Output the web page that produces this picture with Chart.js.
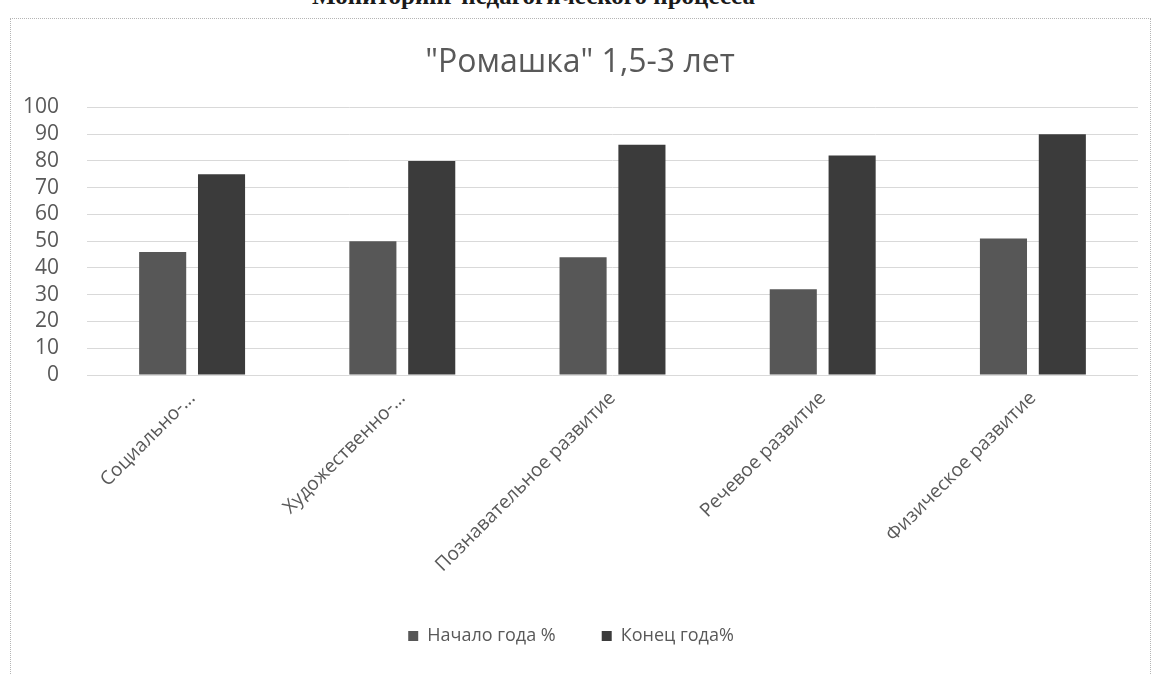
<!DOCTYPE html>
<html>
<head>
<meta charset="utf-8">
<script src="https://cdn.jsdelivr.net/npm/chart.js@4/dist/chart.umd.min.js"></script>
<style>
  html, body { margin: 0; padding: 0; background: #ffffff; }
  body { width: 1157px; height: 674px; position: relative; overflow: hidden; }
  #heading { position: absolute; left: 312px; top: -18px; font: bold 25px "Liberation Serif", serif; color: #1a1a1a; white-space: nowrap; }
  #frame { position: absolute; left: 10px; top: 18px; width: 1141px; height: 670px; border: 1px dotted #b5b5b5; box-sizing: border-box; }
  #wrap { position: absolute; left: 0; top: 0; width: 1157px; height: 674px; }
</style>
</head>
<body>
<div id="heading">Мониторинг педагогического процесса</div>
<div id="frame"></div>
<div id="wrap"><canvas id="c" width="1157" height="674"></canvas></div>
<script>
const chartTitle = '"Ромашка" 1,5-3 лет';
const categories = ['Социально-...', 'Художественно-...', 'Познавательное развитие', 'Речевое развитие', 'Физическое развитие'];
const seriesNames = ['Начало года %', 'Конец года%'];
const startValues = [46, 50, 44, 32, 51];
const endValues = [75, 80, 86, 82, 90];
const yTicks = [0, 10, 20, 30, 40, 50, 60, 70, 80, 90, 100];

const textColor = '#595959';
const fontFamily = '"Open Sans", "Noto Sans", sans-serif';
const seriesColors = ['#575757', '#3b3b3b'];

new Chart(document.getElementById('c'), {
  type: 'bar',
  data: {
    labels: categories,
    datasets: [
      { label: seriesNames[0], data: startValues, backgroundColor: seriesColors[0], barPercentage: 0.8, categoryPercentage: 0.56 },
      { label: seriesNames[1], data: endValues, backgroundColor: seriesColors[1], barPercentage: 0.8, categoryPercentage: 0.56 }
    ]
  },
  options: {
    responsive: false,
    animation: false,
    devicePixelRatio: 1,
    layout: { padding: { top: 28, left: 22, right: 19, bottom: 19 } },
    plugins: {
      title: { display: true, text: chartTitle, color: textColor, font: { family: fontFamily, size: 32, weight: 'normal' }, padding: { top: 16, bottom: 25 } },
      legend: {
        position: 'bottom',
        labels: {
          color: textColor, font: { family: fontFamily, size: 18 }, boxWidth: 10, boxHeight: 10, padding: 10,
          generateLabels: (chart) => {
            const items = Chart.defaults.plugins.legend.labels.generateLabels(chart);
            items.forEach((it, i) => { it.text = it.text + (i < items.length - 1 ? '\u2003\u2003' : '\u2003'); });
            return items;
          }
        }
      },
      tooltip: { enabled: false }
    },
    scales: {
      x: {
        grid: { display: false },
        border: { display: false },
        ticks: { color: textColor, font: { family: fontFamily, size: 19 }, maxRotation: 45, minRotation: 45, autoSkip: false, padding: 4 },
        afterFit: (axis) => { axis.paddingLeft = 0; axis.paddingRight = 0; axis.height = 242; }
      },
      y: {
        min: 0, max: 100,
        afterBuildTicks: (axis) => { axis.ticks = yTicks.map(v => ({ value: v })); },
        afterFit: (axis) => { axis.width = 65; },
        grid: { color: '#d9d9d9', drawTicks: false },
        border: { display: false },
        ticks: { color: textColor, font: { family: fontFamily, size: 21 }, padding: 28, autoSkip: false }
      }
    }
  }
});
</script>
</body>
</html>
